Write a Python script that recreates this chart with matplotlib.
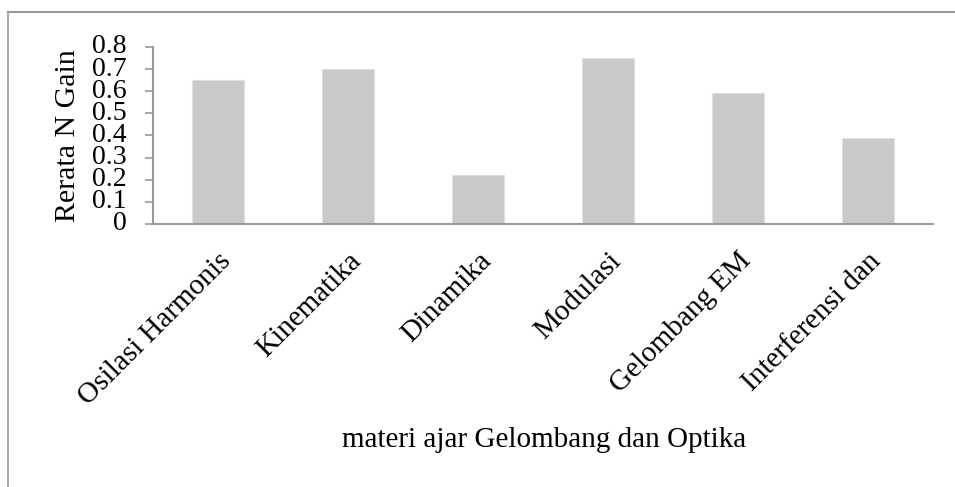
import numpy as np
import matplotlib.pyplot as plt
from matplotlib.lines import Line2D

materi = ["Osilasi Harmonis", "Kinematika", "Dinamika", "Modulasi",
          "Gelombang EM", "Interferensi dan"]
ngain = [0.65, 0.70, 0.22, 0.75, 0.59, 0.39]
yticks = [0, 0.1, 0.2, 0.3, 0.4, 0.5, 0.6, 0.7, 0.8]

plt.rcParams['font.family'] = ['Liberation Serif', 'DejaVu Serif']

fig = plt.figure(figsize=(9.55, 4.87), dpi=100)
ax = fig.add_axes([153/955, 1-224/487, 780/955, 177/487])

x = np.arange(len(materi))
ax.bar(x, ngain, width=0.4, color="#c9c9c9", edgecolor="#e0e0e0", linewidth=0.8)

ax.set_xlim(-0.5, len(materi)-0.5)
ax.set_ylim(0, 0.8)
ax.set_yticks(yticks)
ax.set_yticklabels([("%g" % v) for v in yticks], fontsize=20)
ax.set_xticks(x)
ax.set_xticklabels(materi, fontsize=21, rotation=45, ha="right", rotation_mode="anchor")
ax.tick_params(axis="x", length=0, pad=17)
ax.tick_params(axis="y", length=5.8, color="#999999", width=1.2, pad=13)
for lab in ax.get_yticklabels():
    lab.set_verticalalignment("center")

for s in ["top", "right"]:
    ax.spines[s].set_visible(False)
for s in ["left", "bottom"]:
    ax.spines[s].set_color("#999999")
    ax.spines[s].set_linewidth(1.5)

ax.set_ylabel("Rerata N Gain", fontsize=21.5)
ax.yaxis.set_label_coords(-0.092, 0.5)
fig.text(0.57, 1-440/487, "materi ajar Gelombang dan Optika", fontsize=21,
         ha="center", va="center")

# chart area border (left and top only visible)
fig.add_artist(Line2D([8/955, 8/955], [0, 1-12/487], transform=fig.transFigure,
                      color="#aaaaaa", linewidth=1.5))
fig.add_artist(Line2D([8/955, 1], [1-12/487, 1-12/487], transform=fig.transFigure,
                      color="#999999", linewidth=1.5))

fig.savefig("out.png", dpi=100)
